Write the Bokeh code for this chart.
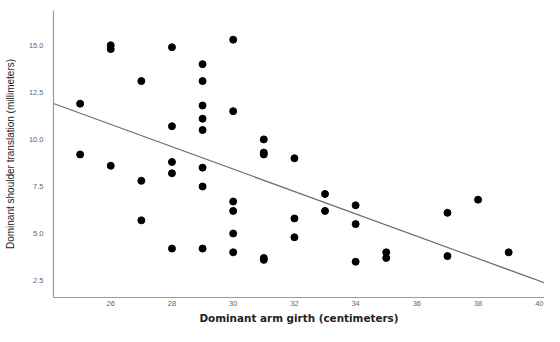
from bokeh.plotting import figure
from bokeh.models import FixedTicker, PrintfTickFormatter, Range1d
from bokeh.embed import file_html
from bokeh.resources import INLINE

# Data
girth = [25, 25, 26, 26, 26, 27, 27, 27, 28, 28, 28, 28, 28,
         29, 29, 29, 29, 29, 29, 29, 29, 30, 30, 30, 30, 30, 30,
         31, 31, 31, 31, 31, 32, 32, 32, 33, 33, 34, 34, 34,
         35, 35, 37, 37, 38, 39]
translation = [11.9, 9.2, 15.0, 14.8, 8.6, 13.1, 7.8, 5.7, 14.9, 10.7, 8.8, 8.2, 4.2,
               14.0, 13.1, 11.8, 11.1, 10.5, 8.5, 7.5, 4.2, 15.3, 11.5, 6.7, 6.2, 5.0, 4.0,
               10.0, 9.3, 9.2, 3.7, 3.6, 9.0, 5.8, 4.8, 7.1, 6.2, 6.5, 5.5, 3.5,
               4.0, 3.7, 6.1, 3.8, 6.8, 4.0]

# Fitted regression line (intercept, slope)
fit_intercept = 26.24
fit_slope = -0.594

x_ticks = [26, 28, 30, 32, 34, 36, 38, 40]
y_ticks = [2.5, 5.0, 7.5, 10.0, 12.5, 15.0]

x_lo, x_hi = 24.13, 40.17
y_lo, y_hi = 1.60, 16.85

p = figure(width=544, height=326, output_backend="svg", toolbar_location=None,
           x_range=Range1d(x_lo, x_hi), y_range=Range1d(y_lo, y_hi),
           min_border_left=53, min_border_right=0, min_border_top=10, min_border_bottom=28)
p.outline_line_color = None
p.grid.visible = False
p.background_fill_color = "white"
p.border_fill_color = "white"

fit_x = [x_lo, x_hi]
fit_y = [fit_intercept + fit_slope * v for v in fit_x]
p.line(fit_x, fit_y, line_color="#707070", line_width=1.2)
p.scatter(girth, translation, size=7, fill_color="black", line_color="black")

for ax in (p.xaxis[0], p.yaxis[0]):
    ax.axis_line_color = "#9a9a9a"
    ax.axis_line_width = 1.2
    ax.major_tick_in = 0
    ax.major_tick_out = 0
    ax.minor_tick_line_color = None
    ax.major_label_text_font = "Liberation Sans"
    ax.major_label_text_font_size = "7.5px"
    ax.major_label_text_color = "#666666"

p.xaxis.ticker = FixedTicker(ticks=x_ticks)
p.yaxis.ticker = FixedTicker(ticks=y_ticks)
p.yaxis.formatter = PrintfTickFormatter(format="%.1f")
p.xaxis.major_label_standoff = 3
p.yaxis.major_label_standoff = 10

p.xaxis.axis_label = "Dominant arm girth (centimeters)"
p.xaxis.axis_label_text_font = "DejaVu Sans"
p.xaxis.axis_label_text_font_style = "bold"
p.xaxis.axis_label_text_font_size = "10.4px"
p.xaxis.axis_label_text_color = "#222222"
p.xaxis.axis_label_standoff = 3

p.yaxis.axis_label = "Dominant shoulder translation (millimeters)"
p.yaxis.axis_label_text_font = "Liberation Sans"
p.yaxis.axis_label_text_font_style = "normal"
p.yaxis.axis_label_text_font_size = "10px"
p.yaxis.axis_label_text_color = "#222222"
p.yaxis.axis_label_standoff = 10

open("out.html", "w").write(file_html(p, INLINE))
